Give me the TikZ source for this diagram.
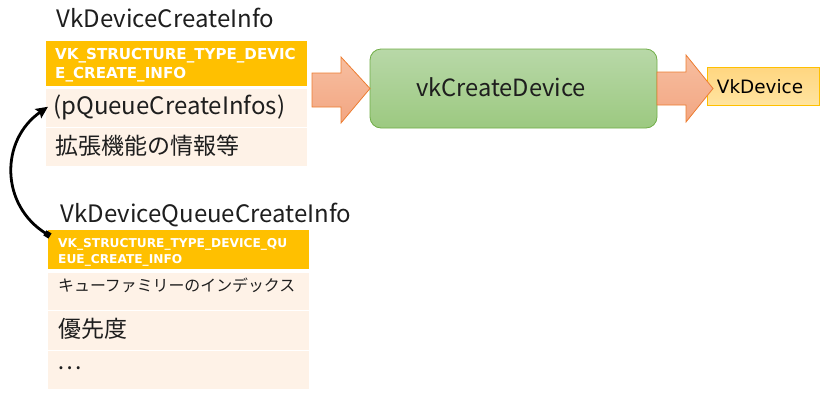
\documentclass[tikz,border=0pt]{standalone}
\usepackage{fontspec}
\setmainfont{Noto Sans CJK JP}
\newfontfamily\djfont{DejaVu Sans}
\usetikzlibrary{arrows.meta}
\definecolor{hdrorange}{RGB}{255,192,0}
\definecolor{rowfill}{RGB}{254,242,231}
\definecolor{arrowedge}{RGB}{237,125,49}
\definecolor{greenedge}{RGB}{112,173,71}
\definecolor{goldedge}{RGB}{255,192,0}
\definecolor{ink}{RGB}{30,30,30}
\tikzset{
  box/.style={anchor=north west, inner sep=0pt, outer sep=0pt, draw=none},
  hdrbox/.style={box, fill=hdrorange},
  rowbox/.style={box, fill=rowfill},
  lbl/.style={anchor=west, inner sep=0pt, text=ink},
  hdrtxt/.style={anchor=base west, inner sep=0pt, text=white},
  blockarrow/.style={draw=arrowedge, line width=0.8pt, top color={rgb,255:red,247;green,190;blue,160}, bottom color={rgb,255:red,242;green,166;blue,130}},
}
\begin{document}
\begin{tikzpicture}[x=1pt,y=-1pt]
\useasboundingbox (0,0) rectangle (827,408);
% ---- VkDeviceCreateInfo ----
\node[anchor=base, inner sep=0pt, font=\fontsize{24}{28}\selectfont, text=ink] (t1) at (165.5,27) {VkDeviceCreateInfo};
\node[hdrbox, minimum width=261pt, minimum height=45pt] (h1) at (46,41) {};
\node[rowbox, minimum width=261pt, minimum height=37.5pt] (r1a) at (46,89) {};
\node[rowbox, minimum width=261pt, minimum height=38.5pt] (r1b) at (46,127.5) {};
\node[hdrtxt, font=\djfont\bfseries\fontsize{15.1}{18}\selectfont] (h1l1) at (55,59.5) {VK\_STRUCTURE\_TYPE\_DEVIC};
\node[hdrtxt, font=\djfont\bfseries\fontsize{15.1}{18}\selectfont] (h1l2) at (55,78) {E\_CREATE\_INFO};
\node[anchor=base west, inner sep=0pt, text=ink, font=\fontsize{24}{26}\selectfont] (r1at) at (53,114) {(pQueueCreateInfos)};
\node[lbl, font=\fontsize{23}{26}\selectfont] (r1bt) at (55,146) {拡張機能の情報等};
% ---- VkDeviceQueueCreateInfo ----
\node[anchor=base, inner sep=0pt, font=\fontsize{24}{28}\selectfont, text=ink] (t2) at (206,222) {VkDeviceQueueCreateInfo};
\node[hdrbox, minimum width=261pt, minimum height=39pt] (h2) at (48,230) {};
\node[rowbox, minimum width=261pt, minimum height=37pt] (r2a) at (48,273) {};
\node[rowbox, minimum width=261pt, minimum height=39pt] (r2b) at (48,311) {};
\node[rowbox, minimum width=261pt, minimum height=38pt] (r2c) at (48,351) {};
\node[hdrtxt, font=\djfont\bfseries\fontsize{12.2}{15}\selectfont] (h2l1) at (58,247) {VK\_STRUCTURE\_TYPE\_DEVICE\_QU};
\node[hdrtxt, font=\djfont\bfseries\fontsize{12.2}{15}\selectfont] (h2l2) at (58,263) {EUE\_CREATE\_INFO};
\node[lbl, font=\fontsize{15.9}{18}\selectfont] (r2at) at (58,285) {キューファミリーのインデックス};
\node[lbl, font=\fontsize{23}{26}\selectfont] (r2bt) at (58,329) {優先度};
\node[anchor=base west, inner sep=0pt, text=ink, font=\fontsize{23}{26}\selectfont] (r2ct) at (57,369) {…};
% ---- vkCreateDevice ----
\node[box, minimum width=287pt, minimum height=79pt, rounded corners=11pt, draw=greenedge, line width=0.8pt,
  top color={rgb,255:red,184;green,216;blue,168}, bottom color={rgb,255:red,156;green,201;blue,128}] (fn) at (370,49) {};
\node[anchor=base, inner sep=0pt, font=\fontsize{23.7}{27}\selectfont, text=ink] (fnt) at (501,96) {vkCreateDevice};
% ---- VkDevice ----
\node[box, minimum width=112pt, minimum height=38pt, draw=goldedge, line width=0.7pt,
  top color={rgb,255:red,255;green,214;blue,128}, bottom color={rgb,255:red,255;green,228;blue,160}] (dev) at (707,67) {};
% ---- block arrows ----
\draw[blockarrow] (312,73) -- (341,73) -- (341,57) -- (fn.west) -- (341,123) -- (341,107) -- (312,107) -- cycle;
\draw[blockarrow] (fn.east |- 0,72) -- (686,72) -- (686,55) -- (713,88.5) -- (686,122) -- (686,105) -- (fn.east |- 0,105) -- cycle;
\node[anchor=base, inner sep=0pt, font=\djfont\fontsize{18.4}{22}\selectfont, text=black] (devt) at (760,93) {VkDevice};
% ---- curved link ----
\coordinate (cs) at ([shift={(2,6)}]h2.north west);
\coordinate (ce) at ([shift={(2,-1)}]r1a.west);
\draw[line width=2.8pt, {Square[length=6pt,width=6pt]}-{Stealth[length=12pt,width=11pt,inset=2pt]}]
  (cs) .. controls (0,205) and (0,140) .. (ce);
\end{tikzpicture}
\end{document}
